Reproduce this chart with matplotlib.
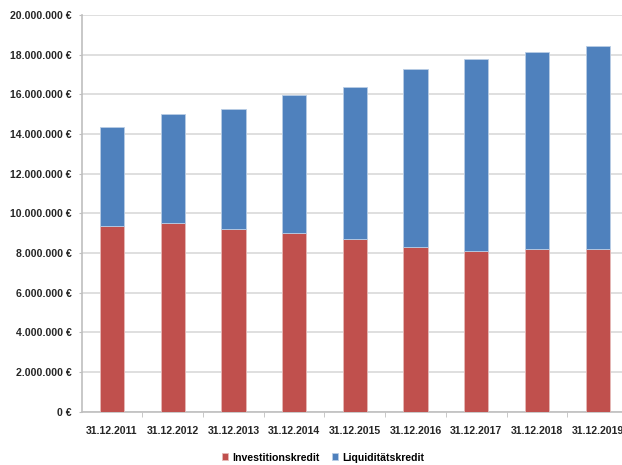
import matplotlib
matplotlib.use('Agg')
import matplotlib.pyplot as plt
from matplotlib.ticker import FuncFormatter, MultipleLocator

# data (in euro)
dates = ['31.12.2011', '31.12.2012', '31.12.2013', '31.12.2014', '31.12.2015',
         '31.12.2016', '31.12.2017', '31.12.2018', '31.12.2019']
investitionskredit = [9360000, 9500000, 9230000, 9000000, 8690000,
                      8320000, 8090000, 8190000, 8190000]
liquiditaetskredit = [4980000, 5500000, 6020000, 6970000, 7700000,
                      8980000, 9700000, 9960000, 10250000]

plt.rcParams['font.family'] = ['Liberation Sans', 'DejaVu Sans']

fig = plt.figure(figsize=(6.22, 4.65), dpi=100)
# plot area runs slightly past the right edge of the image, like the original
ax = fig.add_axes([81.6 / 622, 1 - 411.7 / 465, 546.4 / 622, (411.7 - 15) / 465])

x = list(range(len(dates)))
ax.bar(x, investitionskredit, width=0.4, color='#C0504D', edgecolor='#E6B9B8',
       linewidth=0.6, label='Investitionskredit', zorder=3)
ax.bar(x, liquiditaetskredit, width=0.4, bottom=investitionskredit, color='#4F81BD',
       edgecolor='#B9CDE5', linewidth=0.6, label='Liquiditätskredit', zorder=3)

ax.set_xlim(-0.5, len(dates) - 0.5)
ax.set_ylim(0, 20000000)
ax.yaxis.set_major_locator(MultipleLocator(2000000))
ax.yaxis.set_major_formatter(FuncFormatter(lambda v, p: f'{int(v):,} €'.replace(',', '.')))
ax.grid(axis='y', color='#D9D9D9', linewidth=1.2, zorder=0)

ax.set_xticks(x)
ax.set_xticklabels(dates)
ax.set_xticks([i + 0.5 for i in x[:-1]], minor=True)
ax.tick_params(axis='x', which='major', length=0, pad=10)
ax.tick_params(axis='x', which='minor', length=3.6, color='#BFBFBF')
ax.tick_params(axis='y', length=2.2, color='#BFBFBF', pad=5)
for lab in ax.get_xticklabels() + ax.get_yticklabels():
    lab.set_fontsize(7.6)
    lab.set_fontweight('bold')
    lab.set_color('#262626')

for s in ['top', 'right']:
    ax.spines[s].set_visible(False)
for s in ['left', 'bottom']:
    ax.spines[s].set_color('#BFBFBF')
    ax.spines[s].set_linewidth(1.2)

fig.legend(loc='center', bbox_to_anchor=(323 / 622, 1 - 457.5 / 465), ncol=2,
           frameon=False, handlelength=0.6, handleheight=0.6, handletextpad=0.35,
           columnspacing=1.2, prop={'size': 7.6, 'weight': 'bold'})

fig.savefig('out.png', dpi=100, facecolor='white')
